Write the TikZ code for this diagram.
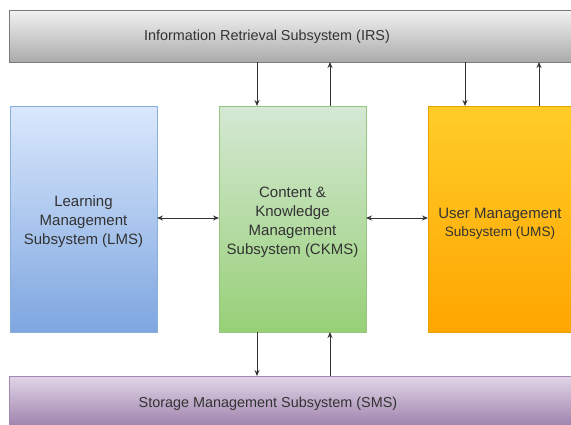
\documentclass[tikz,border=0pt]{standalone}
\usepackage{fontspec}
\setmainfont{Liberation Sans}
\usetikzlibrary{arrows.meta}
\definecolor{grayTop}{HTML}{F2F2F2}
\definecolor{grayBot}{HTML}{ABABAB}
\definecolor{grayLine}{HTML}{7A7A7A}
\definecolor{blueTop}{HTML}{DAE8FC}
\definecolor{blueBot}{HTML}{7EA6E0}
\definecolor{blueLine}{HTML}{8AAEDC}
\definecolor{greenTop}{HTML}{D5E8D4}
\definecolor{greenBot}{HTML}{97D077}
\definecolor{greenLine}{HTML}{97C77F}
\definecolor{orangeTop}{HTML}{FFCD28}
\definecolor{orangeBot}{HTML}{FFA500}
\definecolor{orangeLine}{HTML}{E6A000}
\definecolor{purpleTop}{HTML}{E1D5E7}
\definecolor{purpleBot}{HTML}{8C6C9C}
\definecolor{purpleLine}{HTML}{A48AB3}
\definecolor{textGray}{HTML}{333333}
\definecolor{arrowGray}{HTML}{333333}
\tikzset{
  subsys/.style={draw, line width=0.8pt, inner sep=0pt, outer sep=0pt,
    minimum width=147pt, minimum height=226pt, anchor=north west},
  boxText/.style={text=textGray, font=\fontsize{15}{19}\selectfont, align=center},
  barText/.style={text=textGray, font=\fontsize{14.4}{17}\selectfont},
  link/.style={draw=arrowGray, line width=0.9pt, -{Stealth[length=6pt,width=5pt]}},
  biLink/.style={draw=arrowGray, line width=0.9pt, {Stealth[length=6pt,width=5pt]}-{Stealth[length=6pt,width=5pt]}}
}
\begin{document}
\begin{tikzpicture}[x=1pt,y=-1pt]
\fill[white] (0,0) rectangle (571,424);
\useasboundingbox (0,0) rectangle (571,424);

% horizontal bars
\path[draw=grayLine, line width=0.8pt, top color=grayTop, bottom color=grayBot]
  (9,10) rectangle (600,62);
\node[barText] (irs) at (267,37) {Information Retrieval Subsystem (IRS)};
\coordinate (irsA) at (257,62);
\coordinate (irsB) at (330,62);
\coordinate (irsC) at (465,62);
\coordinate (irsD) at (539,62);

\path[draw=purpleLine, line width=0.8pt, top color=purpleTop, bottom color=purpleBot]
  (9,376) rectangle (600,440);
\node[barText] (sms) at (268,404) {Storage Management Subsystem (SMS)};
\coordinate (smsA) at (257,376);
\coordinate (smsB) at (330,376);

% subsystem blocks
\node[subsys, draw=blueLine, top color=blueTop, bottom color=blueBot] (lms) at (10,106) {};
\node[boxText] (lmsText) at ([yshift=-3pt]lms.center)
  {Learning\\Management\\Subsystem (LMS)};
\node[subsys, draw=greenLine, top color=greenTop, bottom color=greenBot] (ckms) at (219,106) {};
\node[boxText] (ckmsText) at ([yshift=-3pt]ckms.center)
  {Content \&\\Knowledge\\Management\\Subsystem (CKMS)};
\node[subsys, draw=orangeLine, top color=orangeTop, bottom color=orangeBot] (ums) at (428,106) {};
\node[boxText, font=\fontsize{15}{18}\selectfont] (umsText) at (500,224)
  {User Management\\{\fontsize{13.6}{18}\selectfont Subsystem (UMS)}};

% connectors
\draw[link] (irsA) -- (irsA |- ckms.north);
\draw[link] (irsB |- ckms.north) -- (irsB);
\draw[link] (irsC) -- (irsC |- ums.north);
\draw[link] (irsD |- ums.north) -- (irsD);
\draw[link] (smsA |- ckms.south) -- (smsA);
\draw[link] (smsB) -- (smsB |- ckms.south);
\draw[biLink] (lms.east |- 0,218) -- (ckms.west |- 0,218);
\draw[biLink] (ckms.east |- 0,218) -- (ums.west |- 0,218);
\end{tikzpicture}
\end{document}
